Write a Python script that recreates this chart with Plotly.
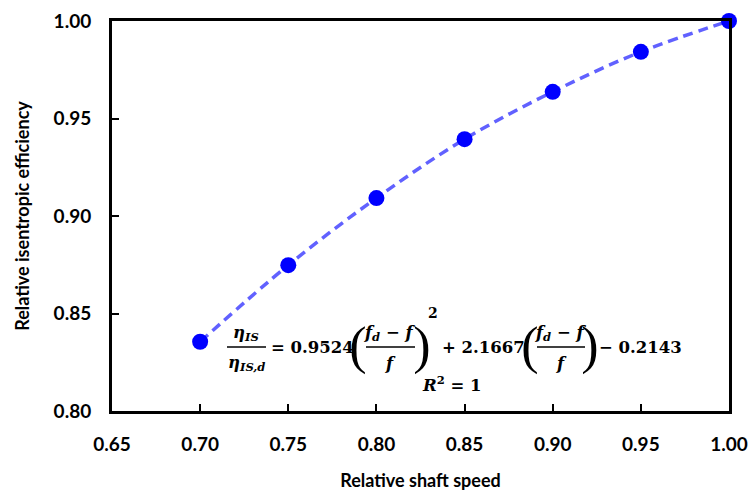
import plotly.graph_objects as go

speed = [0.70, 0.75, 0.80, 0.85, 0.90, 0.95, 1.00]
efficiency = [0.8355, 0.8748, 0.9092, 0.9394, 0.9637, 0.9842, 1.0000]
x_ticks = [0.65, 0.70, 0.75, 0.80, 0.85, 0.90, 0.95, 1.00]
y_ticks = [0.80, 0.85, 0.90, 0.95, 1.00]

W, H = 753, 495
L, R, T, B = 112, 24, 21, 84
PW, PH = W - L - R, H - T - B


def px(x):
    return (x - L) / PW


def py(y):
    return (H - B - y) / PH


fig = go.Figure()
fig.add_trace(go.Scatter(
    x=speed, y=efficiency, mode="lines",
    line=dict(color="rgba(80,80,255,0.9)", width=3.5, dash="10px,6px", shape="spline"),
    hoverinfo="skip", showlegend=False, cliponaxis=False))
fig.add_trace(go.Scatter(
    x=speed, y=efficiency, mode="markers",
    marker=dict(color="#0000ff", size=16),
    showlegend=False, cliponaxis=False))

MF = "DejaVu Serif"
FS = 16.5
anns = []
shapes = []


def txt(x, y, s, size=FS, family=MF, anchor="center", width=None):
    a = dict(x=px(x), y=py(y), xref="paper", yref="paper", text=s,
             showarrow=False, xanchor=anchor, yanchor="middle",
             font=dict(family=family, size=size, color="black"))
    if width is not None:
        a["width"] = width
        a["borderpad"] = 0
    anns.append(a)


def bar(x0, x1, y):
    shapes.append(dict(type="line", xref="paper", yref="paper",
                       x0=px(x0), x1=px(x1), y0=py(y), y1=py(y),
                       line=dict(color="black", width=1.3)))


PS = 52
# eta_IS / eta_IS,d
txt(246, 333, "<b><i>η<sub>IS</sub></i></b>")
bar(227, 266, 347)
txt(246, 363, "<b><i>η<sub>IS,d</sub></i></b>")
txt(269, 347, "<b>= 0.9524</b>", anchor="left")
txt(358, 346, "(", PS, "Liberation Serif", width=14)
txt(390, 333, "<b><i>f<sub>d</sub></i> − <i>f</i></b>")
bar(366, 415, 347)
txt(390, 363, "<b><i>f</i></b>")
txt(422, 346, ")", PS, "Liberation Serif", width=14)
txt(433, 313, "<b>2</b>", 14)
txt(440, 347, "<b>+ 2.1667</b>", anchor="left")
txt(530, 346, "(", PS, "Liberation Serif", width=14)
txt(561, 333, "<b><i>f<sub>d</sub></i> − <i>f</i></b>")
bar(537, 585, 347)
txt(561, 363, "<b><i>f</i></b>")
txt(590, 346, ")", PS, "Liberation Serif", width=14)
txt(597, 347, "<b>− 0.2143</b>", anchor="left")
txt(452, 384, "<b><i>R</i><sup>2</sup> = 1</b>")

axis_common = dict(
    showline=True, linewidth=3, linecolor="black", mirror=True,
    ticks="inside", ticklen=7, tickwidth=2, tickcolor="black",
    showgrid=False, zeroline=False, tickformat=".2f", automargin=False,
    tickfont=dict(family="Lato", size=19, color="black", weight="bold"),
)

fig.update_layout(
    width=W, height=H,
    margin=dict(l=L, r=R, t=T, b=B),
    paper_bgcolor="white", plot_bgcolor="white",
    xaxis=dict(range=[0.65, 1.0], tickvals=x_ticks, ticklabelstandoff=14,
               title=dict(text="<b>Relative shaft speed</b>", standoff=21,
                          font=dict(family="Lato", size=18, color="black")),
               **axis_common),
    yaxis=dict(range=[0.80, 1.0], tickvals=y_ticks, ticklabelstandoff=14,
               title=dict(text="<b>Relative isentropic efficiency</b>", standoff=20,
                          font=dict(family="Lato", size=18, color="black")),
               **axis_common),
    annotations=anns, shapes=shapes,
)

fig.write_html("out.html", config={"displayModeBar": False},
               post_script="document.body.style.margin='0px';document.body.style.padding='0px';")
